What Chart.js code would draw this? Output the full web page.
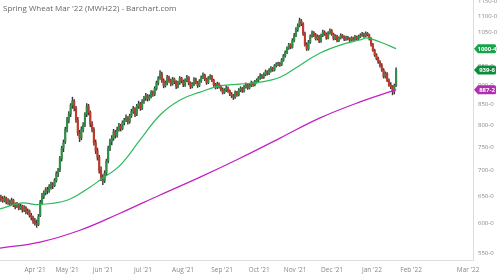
<!DOCTYPE html>
<html>
<head>
<meta charset="utf-8">
<title>Spring Wheat Mar '22 (MWH22)</title>
<script src="https://cdn.jsdelivr.net/npm/chart.js@4.4.0/dist/chart.umd.min.js"></script>
<style>
  html, body { margin: 0; padding: 0; background: #ffffff; }
  #wrap { position: relative; width: 497px; height: 280px; overflow: hidden; }
  #chartTitle { position: absolute; left: 3px; top: 2px; font: 8px "Open Sans", sans-serif; color: #666666; white-space: nowrap; }
</style>
</head>
<body>
<div id="wrap">
  <canvas id="wheatChart" width="497" height="280"></canvas>
  <div id="chartTitle">Spring Wheat Mar '22 (MWH22) - Barchart.com</div>
</div>
<script>
/* ---------- data: daily candles [open, high, low, close], one row per trading day ---------- */
var candles = [
  [648,652,640,645],[645,649,638,641],[641,650,639,646],[646,648,635,638],[638,645,634,640],
  [640,643,632,636],[636,646,634,642],[642,644,630,634],[634,637,626,630],[630,638,628,633],
  [633,635,624,627],[627,635,625,631],[631,633,620,624],[624,632,621,628],[628,630,617,620],
  [620,626,616,622],[622,624,611,614],[614,618,606,610],[610,613,600,604],[604,609,597,600],
  [600,606,593,598],[598,616,596,612],[614,642,612,638],[638,655,634,650],[650,660,645,656],
  [656,666,652,662],[662,667,654,660],[660,672,657,668],[668,677,663,672],[672,676,664,670],
  [670,684,668,680],[680,698,677,694],[694,705,688,700],[702,730,698,725],[725,752,720,748],
  [748,766,740,760],[762,795,758,790],[790,818,784,812],[812,832,805,826],[826,852,820,848],
  [848,868,840,858],[858,862,834,840],[840,845,806,812],[812,818,776,782],[782,788,762,770],
  [770,796,766,790],[790,806,784,800],[800,830,796,826],[826,852,820,845],[845,850,824,830],
  [830,834,796,802],[802,808,784,790],[790,794,754,760],[760,766,736,742],[742,748,722,728],
  [728,732,695,700],[700,708,680,686],[686,692,672,680],[680,700,676,695],[695,724,690,720],
  [720,752,716,748],[748,768,742,762],[762,776,755,770],[770,790,765,784],[784,788,770,776],
  [776,795,772,790],[790,804,786,798],[798,802,786,792],[792,810,789,806],[806,816,800,812],
  [812,824,808,818],[818,820,802,808],[808,826,804,822],[822,838,818,832],[832,845,828,840],
  [840,842,820,826],[826,850,822,845],[845,858,840,852],[852,855,835,840],[840,862,837,858],
  [858,870,852,866],[866,878,860,872],[872,875,858,864],[864,874,860,870],[870,885,866,880],
  [880,884,870,876],[876,895,872,890],[890,910,886,905],[905,922,900,918],[918,938,914,930],
  [930,934,906,912],[912,916,892,898],[898,910,894,905],[905,925,900,920],[920,923,906,912],
  [912,915,897,902],[902,920,899,915],[915,918,903,908],[908,911,890,896],[896,910,892,905],
  [905,922,901,918],[918,920,905,910],[910,913,895,900],[900,916,896,912],[912,925,908,920],
  [920,922,900,905],[905,908,890,895],[895,906,892,902],[902,919,898,915],[915,918,902,906],
  [906,909,893,898],[898,914,895,910],[910,924,906,920],[920,932,916,926],[926,929,911,915],
  [915,918,901,906],[906,922,903,918],[918,927,914,922],[922,925,908,912],[912,915,896,900],
  [900,904,889,894],[894,907,890,902],[902,905,891,896],[896,899,884,888],[888,892,876,880],
  [880,890,877,886],[886,897,882,892],[892,895,880,884],[884,887,872,876],[876,880,867,872],
  [872,875,862,868],[868,884,865,880],[880,883,870,874],[874,890,871,886],[886,895,882,890],
  [890,893,880,884],[884,899,881,895],[895,905,891,900],[900,903,888,892],[892,902,889,898],
  [898,910,895,905],[905,908,896,900],[900,912,897,908],[908,916,904,912],[912,922,908,918],
  [918,930,914,925],[925,928,916,920],[920,932,917,928],[928,940,924,935],[935,938,926,930],
  [930,944,927,938],[938,949,934,944],[944,947,936,940],[940,955,937,952],[952,960,948,956],
  [956,962,951,958],[958,961,950,955],[955,972,952,968],[968,984,964,980],[980,994,976,990],
  [990,1006,986,1002],[1002,1016,998,1012],[1012,1015,1000,1005],[1005,1030,1002,1025],[1025,1046,1020,1040],
  [1040,1064,1036,1058],[1058,1076,1052,1070],[1070,1094,1066,1085],[1085,1090,1070,1076],[1076,1080,1040,1045],
  [1045,1050,1008,1012],[1012,1018,995,1000],[1000,1025,996,1020],[1020,1042,1016,1038],[1038,1054,1034,1048],
  [1048,1052,1036,1042],[1042,1046,1026,1030],[1030,1042,1026,1036],[1036,1040,1018,1022],[1022,1044,1019,1040],
  [1040,1056,1036,1050],[1050,1054,1040,1045],[1045,1048,1028,1032],[1032,1052,1029,1048],[1048,1060,1044,1055],
  [1055,1058,1040,1044],[1044,1047,1026,1030],[1030,1042,1027,1038],[1038,1041,1020,1024],[1024,1036,1021,1032],
  [1032,1045,1029,1040],[1040,1043,1032,1036],[1036,1039,1024,1028],[1028,1038,1025,1034],[1034,1037,1026,1030],
  [1030,1033,1021,1026],[1026,1036,1023,1032],[1032,1035,1024,1028],[1028,1040,1025,1035],[1035,1038,1026,1030],
  [1030,1041,1027,1036],[1036,1045,1033,1040],[1040,1049,1037,1044],[1044,1047,1034,1038],[1038,1051,1035,1046],
  [1046,1049,1038,1042],[1042,1044,1026,1030],[1030,1033,1008,1012],[1012,1016,992,995],[995,999,978,982],
  [982,986,968,972],[972,976,958,962],[962,966,948,952],[952,958,936,940],[940,944,918,922],
  [922,935,918,930],[930,933,908,912],[912,916,896,900],[900,906,890,895],[895,898,874,882],
  [882,902,876,898],[898,946,895,939.75]
];

/* moving averages, read at a few trading-day positions */
var ma50Days   = [-0.5, 11.8, 20.2, 37, 49.8, 55.4, 66.6, 77.8, 89, 100.2, 111.4, 122.5, 133.7, 144.9, 156.1, 167.3, 178.5, 189.7, 200.8, 204.8, 212, 221];
var ma50Values = [626, 637, 634, 642, 667, 681, 711, 766, 824, 861, 881, 897, 902, 907, 920, 953, 988, 1011, 1026, 1032, 1020, 1000.5];
var ma200Days   = [-0.5, 21.9, 44.2, 66.6, 89, 111.4, 133.7, 156.1, 178.5, 200.8, 221];
var ma200Values = [558, 568, 588, 618, 652, 687, 726, 770, 817, 856, 887.25];

/* axes */
var monthTickDays   = [19.1, 37.0, 57.1, 79.5, 101.9, 123.7, 144.4, 164.5, 185.2, 207.5, 229.4, 261.3];
var monthTickLabels = ["Apr '21", "May '21", "Jun '21", "Jul '21", "Aug '21", "Sep '21", "Oct '21", "Nov '21", "Dec '21", "Jan '22", "Feb '22", "Mar '22"];
var priceTicks = [550, 600, 650, 700, 750, 800, 850, 900, 950, 1000, 1050, 1100, 1150];

/* right-edge value tags */
var tagValues = [1000.5, 939.75, 887.25];
var tagColors = ["#17a34a", "#0d8c3c", "#b32db3"];

(function () {
  /* ---------- price format: whole-eighths ---------- */
  function fmtPrice(v) {
    var whole = Math.floor(v);
    var eighths = Math.round((v - whole) * 8);
    return whole + "-" + eighths;
  }

  /* ---------- tags on the price axis ---------- */
  var tagPlugin = {
    id: "priceTags",
    afterDraw: function (chart) {
      var ctx = chart.ctx;
      var y = chart.scales.y;
      var x0 = chart.chartArea.right + 1;
      ctx.save();
      ctx.font = "bold 6px 'Open Sans', sans-serif";
      ctx.textAlign = "center";
      ctx.textBaseline = "middle";
      tagValues.forEach(function (v, i) {
        var py = y.getPixelForValue(v);
        var h = 9, w = 22;
        ctx.fillStyle = tagColors[i];
        ctx.beginPath();
        ctx.moveTo(x0, py);
        ctx.lineTo(x0 + 4, py - h / 2);
        ctx.lineTo(x0 + w - 1.5, py - h / 2);
        ctx.quadraticCurveTo(x0 + w, py - h / 2, x0 + w, py - h / 2 + 1.5);
        ctx.lineTo(x0 + w, py + h / 2 - 1.5);
        ctx.quadraticCurveTo(x0 + w, py + h / 2, x0 + w - 1.5, py + h / 2);
        ctx.lineTo(x0 + 4, py + h / 2);
        ctx.closePath();
        ctx.fill();
        ctx.fillStyle = "#ffffff";
        ctx.fillText(fmtPrice(v), x0 + 13, py + 0.5);
      });
      ctx.restore();
    }
  };

  /* ---------- datasets ---------- */
  function buildDatasets() {
    var wicks = [], bodies = [], bodyColors = [];
    candles.forEach(function (c, i) {
      wicks.push({ x: i, y: [c[2], c[1]] });
      bodies.push({ x: i, y: [c[0], c[3]] });
      bodyColors.push(c[3] >= c[0] ? "#2f8f46" : "#c0392b");
    });
    var ma50 = ma50Days.map(function (d, i) { return { x: d, y: ma50Values[i] }; });
    var ma200 = ma200Days.map(function (d, i) { return { x: d, y: ma200Values[i] }; });
    return [
      { type: "line", data: ma50, borderColor: "#2dbb5a", borderWidth: 1.2, pointRadius: 0, tension: 0.4, order: 1 },
      { type: "line", data: ma200, borderColor: "#c21fc2", borderWidth: 1.2, pointRadius: 0, tension: 0.4, order: 1 },
      { type: "bar", data: wicks, backgroundColor: "#3a3a3a", barThickness: 0.8, grouped: false, order: 3 },
      { type: "bar", data: bodies, backgroundColor: bodyColors, barThickness: 1.5, grouped: false, order: 2 }
    ];
  }

  /* ---------- chart ---------- */
  function initChart() {
    var ctx = document.getElementById("wheatChart").getContext("2d");
    new Chart(ctx, {
      type: "bar",
      data: { datasets: buildDatasets() },
      plugins: [tagPlugin],
      options: {
        responsive: false,
        animation: false,
        devicePixelRatio: 1,
        layout: { padding: 0 },
        plugins: { legend: { display: false }, tooltip: { enabled: false } },
        scales: {
          x: {
            type: "linear",
            offset: false,
            min: -0.5,
            max: 264,
            grid: { display: false, drawTicks: false },
            border: { display: true, color: "#dddddd" },
            afterBuildTicks: function (scale) {
              scale.ticks = monthTickDays.map(function (d) { return { value: d }; });
            },
            afterFit: function (scale) {
              scale.height = 20;
              scale.paddingLeft = 0;
              scale.paddingRight = 0;
            },
            ticks: {
              autoSkip: false,
              maxRotation: 0,
              padding: 6,
              color: "#888888",
              font: { size: 6.5, family: "'Open Sans', sans-serif" },
              callback: function (v, idx) { return monthTickLabels[idx]; }
            }
          },
          y: {
            type: "logarithmic",
            position: "right",
            min: 539,
            max: 1153.5,
            grid: { display: false, drawTicks: false },
            border: { display: true, color: "#dddddd" },
            afterBuildTicks: function (scale) {
              scale.ticks = priceTicks.map(function (v) { return { value: v }; });
            },
            afterFit: function (scale) {
              scale.width = 24;
              scale.paddingTop = 0;
              scale.paddingBottom = 0;
            },
            ticks: {
              padding: 5,
              color: "#888888",
              font: { size: 6, family: "'Open Sans', sans-serif" },
              callback: function (v) { return fmtPrice(v); }
            }
          }
        }
      }
    });
  }

  initChart();
})();
</script>
</body>
</html>
